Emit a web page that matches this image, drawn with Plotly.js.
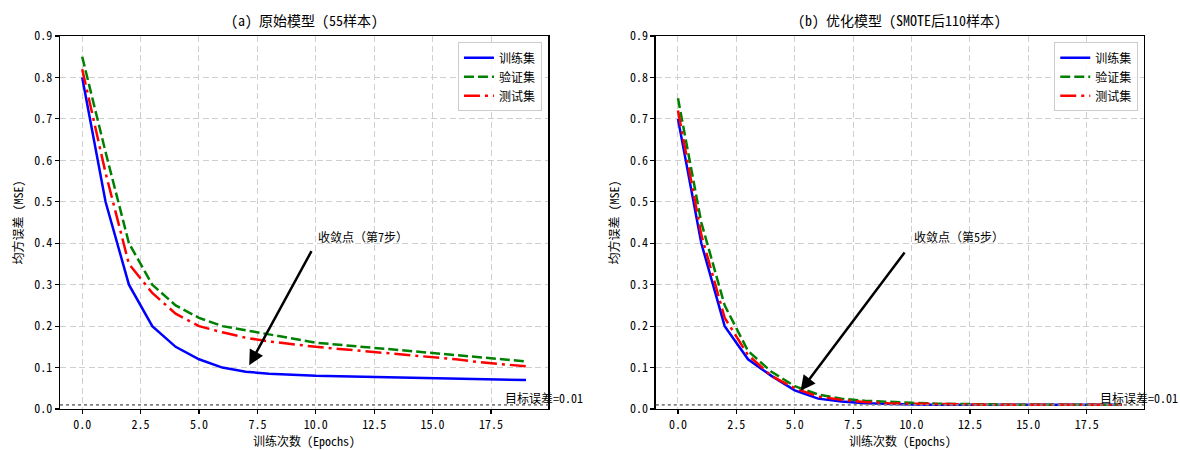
<!DOCTYPE html>
<html>
<head>
<meta charset="utf-8">
<script src="https://cdn.plot.ly/plotly-3.0.1.min.js"></script>
<style>html,body{margin:0;padding:0;background:#fff;}#chart{width:1180px;height:450px;}</style>
</head>
<body>
<div id="chart"></div>
<script>
// ---- data ----
const epochs = [0,1,2,3,4,5,6,7,8,9,10,11,12,13,14,15,16,17,18,19];

const trainA = [0.80,0.50,0.30,0.20,0.15,0.12,0.10,0.09,0.085,0.082,0.080,0.079,0.078,0.077,0.076,0.075,0.074,0.073,0.072,0.070];
const valA   = [0.85,0.62,0.40,0.30,0.25,0.22,0.20,0.19,0.18,0.17,0.16,0.155,0.15,0.145,0.14,0.135,0.13,0.125,0.12,0.115];
const testA  = [0.82,0.57,0.35,0.28,0.23,0.20,0.185,0.172,0.163,0.156,0.150,0.145,0.14,0.135,0.13,0.125,0.12,0.113,0.108,0.103];

const trainB = [0.70,0.40,0.20,0.12,0.08,0.045,0.025,0.018,0.014,0.012,0.011,0.010,0.010,0.010,0.010,0.010,0.010,0.010,0.010,0.010];
const valB   = [0.75,0.45,0.25,0.14,0.09,0.055,0.035,0.025,0.02,0.017,0.015,0.013,0.012,0.011,0.011,0.010,0.010,0.010,0.010,0.010];
const testB  = [0.72,0.42,0.22,0.13,0.08,0.05,0.03,0.022,0.017,0.014,0.013,0.012,0.011,0.010,0.010,0.010,0.010,0.010,0.010,0.010];

const seriesNames = ['训练集','验证集','测试集'];
const targetError = 0.01;
const targetLabel = '目标误差=0.01';
const titles = ['(a) 原始模型 (55样本)', '(b) 优化模型 (SMOTE后110样本)'];
const xTitle = '训练次数 (Epochs)';
const yTitle = '均方误差 (MSE)';
const convLabels = ['收敛点（第7步）', '收敛点（第5步）'];
const convPoints = [[7, 0.09], [5, 0.025]];
const convText = [[10, 0.40], [10, 0.40]];

// ---- styles ----
const FONT = 'Noto Sans Mono CJK SC, Noto Sans CJK SC, DejaVu Sans Mono, sans-serif';
const colors = ['#0000ff', '#008000', '#ff0000'];
const dashes = ['solid', '10px,4px', '16px,5px,3px,5px'];

function mkTraces(data, xa, ya, leg) {
  return data.map((d, i) => ({
    x: epochs, y: d, type: 'scatter', mode: 'lines', name: seriesNames[i],
    xaxis: xa, yaxis: ya, legend: leg,
    line: {color: colors[i], width: 2.5, dash: dashes[i]}
  }));
}

const traces = [
  ...mkTraces([trainA, valA, testA], 'x', 'y', 'legend'),
  ...mkTraces([trainB, valB, testB], 'x2', 'y2', 'legend2')
];

const axX = {
  range: [-0.95, 19.95], dtick: 2.5, tick0: 0, tickformat: '.1f',
  showgrid: true, gridcolor: '#cfcfcf', griddash: '6px,3.5px', gridwidth: 1,
  zeroline: false, showline: true, linecolor: '#000', linewidth: 1.3, mirror: true,
  ticks: 'outside', ticklen: 4, tickcolor: '#000', tickwidth: 1.2,
  tickfont: {size: 12, color: '#000'},
  title: {text: xTitle, font: {size: 12, color: '#000'}, standoff: 6}
};
const axY = {
  range: [0, 0.9], dtick: 0.1, tick0: 0, tickformat: '.1f',
  showgrid: true, gridcolor: '#cfcfcf', griddash: '6px,3.5px', gridwidth: 1,
  zeroline: false, showline: true, linecolor: '#000', linewidth: 1.3, mirror: true,
  ticks: 'outside', ticklen: 4, tickcolor: '#000', tickwidth: 1.2,
  tickfont: {size: 12, color: '#000'},
  title: {text: yTitle, font: {size: 12, color: '#000'}, standoff: 8}
};

// arrow shrink (matplotlib-like, 5% at each end) using approx px per unit
const pxX = 23.3, pxY = 414.4;
function shrinkArrow(p, t) {
  const dx = (t[0] - p[0]) * pxX, dy = (t[1] - p[1]) * pxY;
  const f = 0.05;
  return {
    tip: [p[0] + f * dx / pxX, p[1] + f * dy / pxY],
    tail: [t[0] - f * dx / pxX, t[1] - f * dy / pxY]
  };
}

const annotations = [];
const shapes = [];
['', '2'].forEach((s, k) => {
  const xr = 'x' + s, yr = 'y' + s;
  const dom = k === 0 ? [0, 0.4504] : [0.5496, 1];
  annotations.push({
    text: titles[k], xref: 'paper', yref: 'paper', x: (dom[0] + dom[1]) / 2, y: 1,
    xanchor: 'center', yanchor: 'bottom', yshift: 4, showarrow: false,
    font: {size: 14, color: '#000'}
  });
  const a = shrinkArrow(convPoints[k], convText[k]);
  annotations.push({
    text: '', xref: xr, yref: yr, axref: xr, ayref: yr,
    x: a.tip[0], y: a.tip[1], ax: a.tail[0], ay: a.tail[1],
    showarrow: true, arrowhead: 2, arrowsize: 1.2, arrowwidth: 2.5, arrowcolor: '#000',
    standoff: 0, startstandoff: 0
  });
  annotations.push({
    text: convLabels[k], xref: xr, yref: yr, x: convText[k][0], y: convText[k][1],
    xanchor: 'left', yanchor: 'bottom', yshift: -4, showarrow: false,
    font: {size: 12, color: '#000'}
  });
  annotations.push({
    text: targetLabel, xref: xr, yref: yr, x: 18, y: targetError,
    xanchor: 'left', yanchor: 'bottom', yshift: -3, showarrow: false,
    font: {size: 12, color: '#000'}
  });
  shapes.push({
    type: 'line', xref: xr + ' domain', yref: yr, x0: 0, x1: 1, y0: targetError, y1: targetError,
    line: {color: '#808080', width: 1.6, dash: 'dot'}
  });
});

const legendBase = {
  yanchor: 'top', y: 0.983, xanchor: 'right',
  bgcolor: 'rgba(255,255,255,0.85)', bordercolor: '#cccccc', borderwidth: 1,
  font: {size: 12, color: '#000'}, tracegroupgap: 0
};

const layout = {
  width: 1180, height: 450,
  margin: {l: 60, r: 36, t: 36, b: 41},
  paper_bgcolor: '#fff', plot_bgcolor: '#fff',
  font: {family: FONT, size: 12, color: '#000'},
  xaxis: Object.assign({}, axX, {domain: [0, 0.4504], anchor: 'y'}),
  yaxis: Object.assign({}, axY, {domain: [0, 1], anchor: 'x'}),
  xaxis2: Object.assign({}, axX, {domain: [0.5496, 1], anchor: 'y2'}),
  yaxis2: Object.assign({}, axY, {domain: [0, 1], anchor: 'x2'}),
  legend: Object.assign({}, legendBase, {x: 0.4446}),
  legend2: Object.assign({}, legendBase, {x: 0.9947}),
  annotations: annotations,
  shapes: shapes,
  showlegend: true
};

Plotly.newPlot('chart', traces, layout, {staticPlot: true, displayModeBar: false});
</script>
</body>
</html>
